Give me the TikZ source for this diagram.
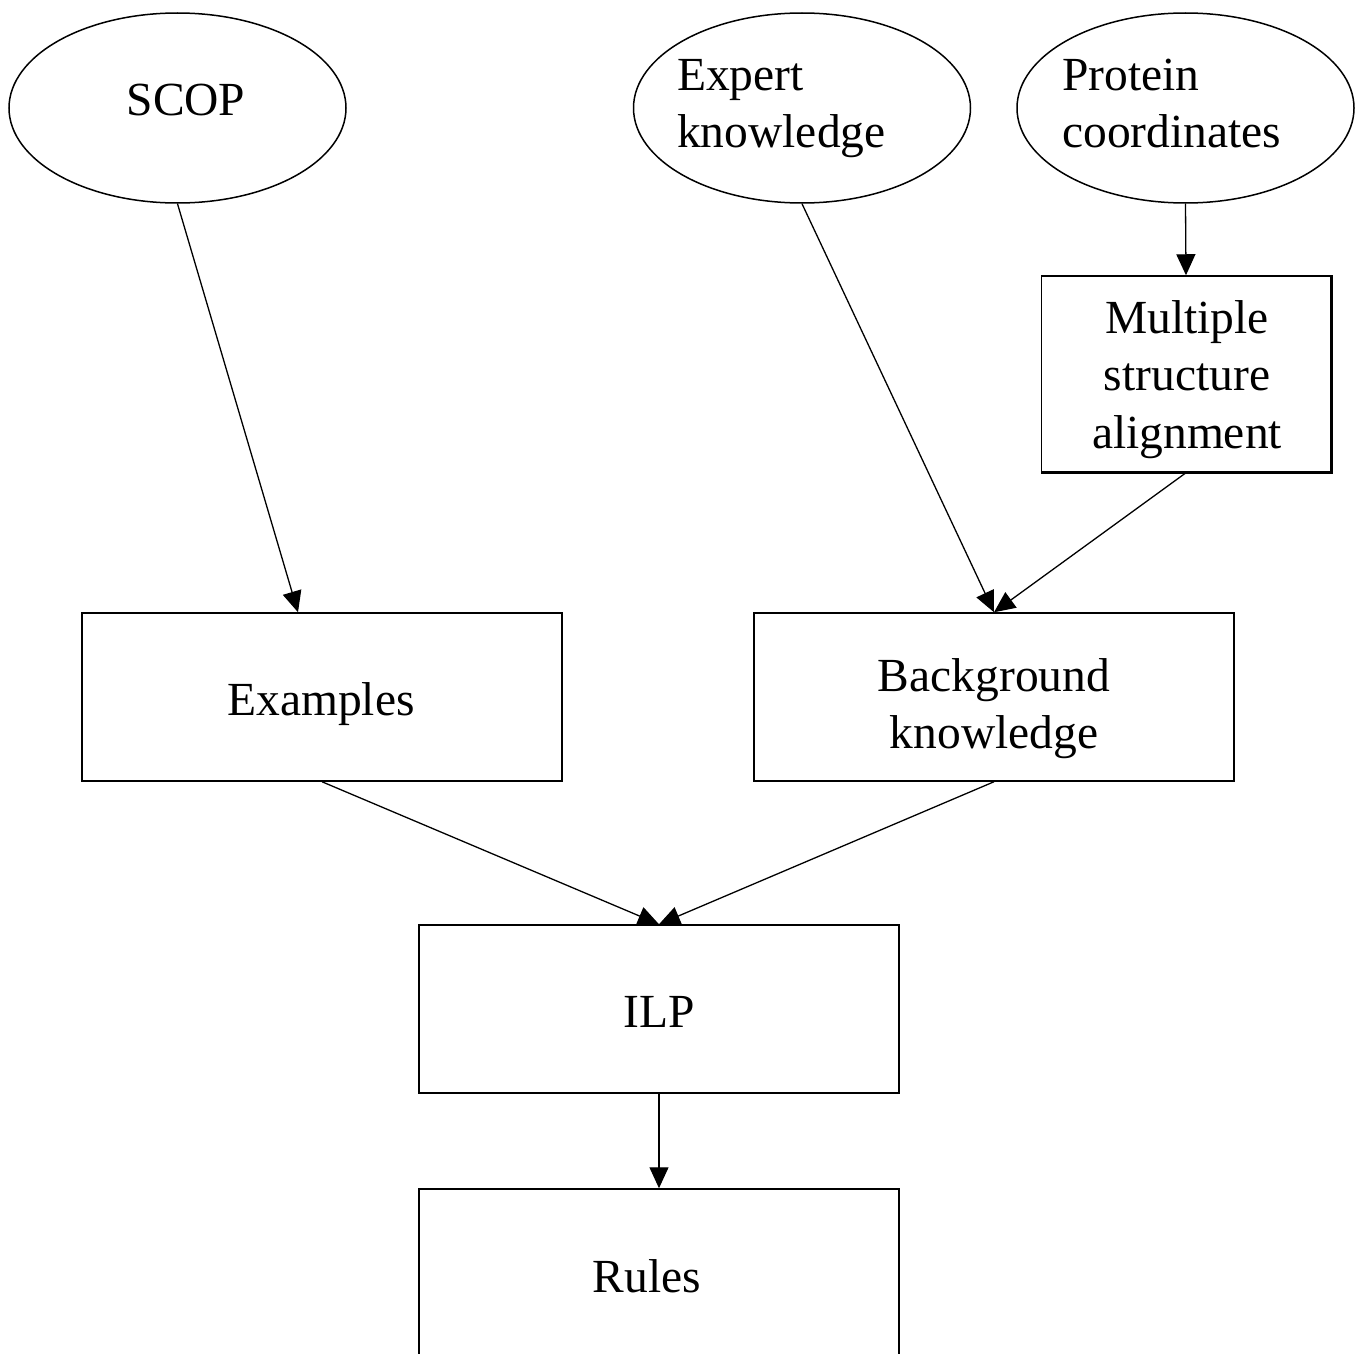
\documentclass[tikz,border=0pt]{standalone}
\usepackage{fontspec}
\setmainfont{Liberation Serif}
\usetikzlibrary{shapes.geometric,arrows.meta,calc}
\begin{document}
\begin{tikzpicture}[x=1pt,y=-1pt,
  box/.style={draw,line width=1.5pt,rectangle,inner sep=0pt,minimum width=480pt,minimum height=168pt},
  oval/.style={draw,line width=1.5pt,ellipse,inner sep=0pt,minimum width=337pt,minimum height=190pt},
  lbl/.style={inner sep=0pt,font=\fontsize{47.5}{57.5}\selectfont},
  arr/.style={line width=1.3pt,-{Triangle[length=21pt,width=19pt]}}]
\useasboundingbox (0,0) rectangle (1366,1354);
\clip (0,0) rectangle (1366,1354);
% shapes
\node[oval] (scop) at (177.5,108) {};
\node[oval] (expert) at (802,108) {};
\node[oval] (protein) at (1185.5,108) {};
\node[box,minimum width=289pt,minimum height=196pt] (msa) at (1186,374) {};
\draw[line width=2.5pt] (msa.north east) -- (msa.south east) -- (msa.south west);
\node[box] (ex) at (322,697) {};
\node[box] (bg) at (994,697) {};
\node[box] (ilp) at (659,1009) {};
\node[box,minimum height=200pt] (rules) at (659,1289) {};
% texts
\node[lbl,anchor=base] (tscop) at (186,115) {SCOP};
\node[lbl,anchor=base west] (texpert) at (677,90) {\begin{tabular}[t]{@{}l@{}}Expert\\knowledge\end{tabular}};
\node[lbl,anchor=base west] (tprotein) at (1062,90) {\begin{tabular}[t]{@{}l@{}}Protein\\coordinates\end{tabular}};
\node[lbl,anchor=base] (tmsa) at (1187,333) {\begin{tabular}[t]{@{}c@{}}Multiple\\structure\\alignment\end{tabular}};
\node[lbl,anchor=base] (tex) at (321,715) {Examples};
\node[lbl,anchor=base] (tbg) at (994,691) {\begin{tabular}[t]{@{}c@{}}Background\\knowledge\end{tabular}};
\node[lbl,anchor=base] (tilp) at (659,1027) {ILP};
\node[lbl,anchor=base] (trules) at (647,1292) {Rules};
% connectors
\draw[arr] (scop.south) -- ($(ex.north)+(-24,0)$);
\draw[arr] (expert.south) -- (bg.north);
\draw[arr] (protein.south) -- (msa.north);
\draw[arr] (msa.south) -- (bg.north);
\draw[arr] (ex.south) -- (ilp.north);
\draw[arr] (bg.south) -- (ilp.north);
\draw[arr] (ilp.south) -- (rules.north);
\end{tikzpicture}
\end{document}
